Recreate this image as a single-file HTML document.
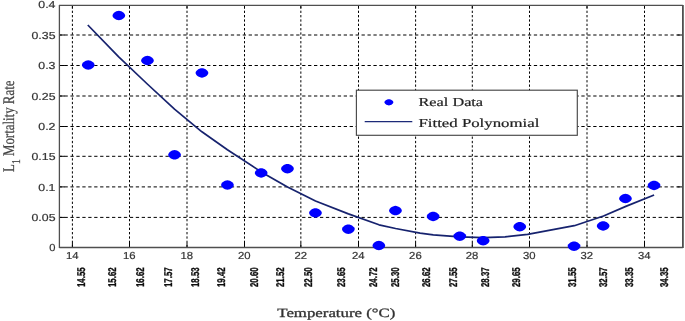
<!DOCTYPE html>
<html><head><meta charset="utf-8"><title>chart</title>
<style>
html,body{margin:0;padding:0;background:#fff;}
body{width:685px;height:321px;overflow:hidden;font-family:"Liberation Sans",sans-serif;}
svg{display:block;}
text{text-rendering:geometricPrecision;}
.tk{font-family:"Liberation Sans",sans-serif;font-size:10.2px;fill:#333;stroke:#333;stroke-width:0.2px;}
.rl{font-family:"Liberation Sans",sans-serif;font-weight:bold;font-size:11.3px;fill:#111;stroke:#111;stroke-width:0.35px;}
.sf{font-family:"Liberation Serif",serif;}
</style></head><body>
<svg width="685" height="321" viewBox="0 0 685 321">
<defs><filter id="b" x="-5%" y="-5%" width="110%" height="110%"><feGaussianBlur stdDeviation="0.4"/></filter><filter id="b2" x="-5%" y="-5%" width="110%" height="110%"><feGaussianBlur stdDeviation="0.25"/></filter></defs>
<rect x="0" y="0" width="685" height="321" fill="#fff"/>

<g stroke="#000" stroke-width="1" fill="none" filter="url(#b2)">
<line x1="72.40" y1="5.4" x2="72.40" y2="247.4" stroke-dasharray="2.3,2.04" stroke-dashoffset="3.39"/>
<line x1="72.40" y1="5.4" x2="72.40" y2="8.4"/>
<line x1="72.40" y1="242.9" x2="72.40" y2="247.4"/>
<line x1="129.50" y1="5.4" x2="129.50" y2="247.4" stroke-dasharray="2.3,2.04" stroke-dashoffset="3.39"/>
<line x1="129.50" y1="5.4" x2="129.50" y2="8.4"/>
<line x1="129.50" y1="242.9" x2="129.50" y2="247.4"/>
<line x1="187.00" y1="5.4" x2="187.00" y2="247.4" stroke-dasharray="2.3,2.04" stroke-dashoffset="3.39"/>
<line x1="187.00" y1="5.4" x2="187.00" y2="8.4"/>
<line x1="187.00" y1="242.9" x2="187.00" y2="247.4"/>
<line x1="244.50" y1="5.4" x2="244.50" y2="247.4" stroke-dasharray="2.3,2.04" stroke-dashoffset="3.39"/>
<line x1="244.50" y1="5.4" x2="244.50" y2="8.4"/>
<line x1="244.50" y1="242.9" x2="244.50" y2="247.4"/>
<line x1="300.85" y1="5.4" x2="300.85" y2="247.4" stroke-dasharray="2.3,2.04" stroke-dashoffset="3.39"/>
<line x1="300.85" y1="5.4" x2="300.85" y2="8.4"/>
<line x1="300.85" y1="242.9" x2="300.85" y2="247.4"/>
<line x1="358.50" y1="5.4" x2="358.50" y2="247.4" stroke-dasharray="2.3,2.04" stroke-dashoffset="3.39"/>
<line x1="358.50" y1="5.4" x2="358.50" y2="8.4"/>
<line x1="358.50" y1="242.9" x2="358.50" y2="247.4"/>
<line x1="415.60" y1="5.4" x2="415.60" y2="247.4" stroke-dasharray="2.3,2.04" stroke-dashoffset="3.39"/>
<line x1="415.60" y1="5.4" x2="415.60" y2="8.4"/>
<line x1="415.60" y1="242.9" x2="415.60" y2="247.4"/>
<line x1="472.30" y1="5.4" x2="472.30" y2="247.4" stroke-dasharray="2.3,2.04" stroke-dashoffset="3.39"/>
<line x1="472.30" y1="5.4" x2="472.30" y2="8.4"/>
<line x1="472.30" y1="242.9" x2="472.30" y2="247.4"/>
<line x1="529.50" y1="5.4" x2="529.50" y2="247.4" stroke-dasharray="2.3,2.04" stroke-dashoffset="3.39"/>
<line x1="529.50" y1="5.4" x2="529.50" y2="8.4"/>
<line x1="529.50" y1="242.9" x2="529.50" y2="247.4"/>
<line x1="587.00" y1="5.4" x2="587.00" y2="247.4" stroke-dasharray="2.3,2.04" stroke-dashoffset="3.39"/>
<line x1="587.00" y1="5.4" x2="587.00" y2="8.4"/>
<line x1="587.00" y1="242.9" x2="587.00" y2="247.4"/>
<line x1="644.50" y1="5.4" x2="644.50" y2="247.4" stroke-dasharray="2.3,2.04" stroke-dashoffset="3.39"/>
<line x1="644.50" y1="5.4" x2="644.50" y2="8.4"/>
<line x1="644.50" y1="242.9" x2="644.50" y2="247.4"/>
<line x1="59.4" y1="217.40" x2="682.9" y2="217.40" stroke-dasharray="3.3,2.641" stroke-dashoffset="0.85"/>
<line x1="59.4" y1="217.40" x2="64.9" y2="217.40"/>
<line x1="677.4" y1="217.40" x2="682.9" y2="217.40"/>
<line x1="59.4" y1="186.90" x2="682.9" y2="186.90" stroke-dasharray="3.3,2.641" stroke-dashoffset="0.85"/>
<line x1="59.4" y1="186.90" x2="64.9" y2="186.90"/>
<line x1="677.4" y1="186.90" x2="682.9" y2="186.90"/>
<line x1="59.4" y1="156.30" x2="682.9" y2="156.30" stroke-dasharray="3.3,2.641" stroke-dashoffset="0.85"/>
<line x1="59.4" y1="156.30" x2="64.9" y2="156.30"/>
<line x1="677.4" y1="156.30" x2="682.9" y2="156.30"/>
<line x1="59.4" y1="126.50" x2="682.9" y2="126.50" stroke-dasharray="3.3,2.641" stroke-dashoffset="0.85"/>
<line x1="59.4" y1="126.50" x2="64.9" y2="126.50"/>
<line x1="677.4" y1="126.50" x2="682.9" y2="126.50"/>
<line x1="59.4" y1="96.00" x2="682.9" y2="96.00" stroke-dasharray="3.3,2.641" stroke-dashoffset="0.85"/>
<line x1="59.4" y1="96.00" x2="64.9" y2="96.00"/>
<line x1="677.4" y1="96.00" x2="682.9" y2="96.00"/>
<line x1="59.4" y1="65.50" x2="682.9" y2="65.50" stroke-dasharray="3.3,2.641" stroke-dashoffset="0.85"/>
<line x1="59.4" y1="65.50" x2="64.9" y2="65.50"/>
<line x1="677.4" y1="65.50" x2="682.9" y2="65.50"/>
<line x1="59.4" y1="35.00" x2="682.9" y2="35.00" stroke-dasharray="3.3,2.641" stroke-dashoffset="0.85"/>
<line x1="59.4" y1="35.00" x2="64.9" y2="35.00"/>
<line x1="677.4" y1="35.00" x2="682.9" y2="35.00"/>
</g>
<g filter="url(#b)">
<g stroke="#505050" fill="none"><line x1="59.4" y1="4.9" x2="59.4" y2="248.0" stroke-width="1.3"/><line x1="59.4" y1="5.4" x2="682.9" y2="5.4" stroke-width="1.1"/><line x1="682.9" y1="4.9" x2="682.9" y2="248.1" stroke-width="1.8"/><line x1="59.4" y1="247.55" x2="682.9" y2="247.55" stroke-width="1.5"/></g>
<path d="M87.8,25.0 L118.7,56.9 L147.3,84.0 L174.5,109.1 L201.9,131.8 L227.4,149.7 L261.2,171.9 L287.5,187.0 L315.5,201.0 L348.4,213.9 L379.0,224.8 L395.6,228.5 L420.1,233.2 L433.3,234.8 L459.9,236.8 L483.4,237.7 L505.1,236.9 L527.6,234.4 L574.3,225.7 L603.5,216.0 L625.8,206.4 L654.1,195.0" fill="none" stroke="#16226e" stroke-width="1.7" stroke-linejoin="round"/>
<path d="M94.60,65.00 L94.42,65.85 L93.89,66.83 L93.04,67.77 L91.95,68.59 L90.70,69.22 L89.39,69.61 L88.25,69.75 L87.11,69.61 L85.80,69.22 L84.55,68.59 L83.46,67.77 L82.61,66.83 L82.08,65.85 L81.90,65.00 L82.08,64.15 L82.61,63.17 L83.46,62.23 L84.55,61.41 L85.80,60.78 L87.11,60.39 L88.25,60.25 L89.39,60.39 L90.70,60.78 L91.95,61.41 L93.04,62.23 L93.89,63.17 L94.42,64.15Z" fill="#0000ff"/>
<path d="M125.20,15.50 L125.02,16.35 L124.49,17.33 L123.64,18.27 L122.55,19.09 L121.30,19.72 L119.99,20.11 L118.85,20.25 L117.71,20.11 L116.40,19.72 L115.15,19.09 L114.06,18.27 L113.21,17.33 L112.68,16.35 L112.50,15.50 L112.68,14.65 L113.21,13.67 L114.06,12.73 L115.15,11.91 L116.40,11.28 L117.71,10.89 L118.85,10.75 L119.99,10.89 L121.30,11.28 L122.55,11.91 L123.64,12.73 L124.49,13.67 L125.02,14.65Z" fill="#0000ff"/>
<path d="M153.80,60.50 L153.62,61.35 L153.09,62.33 L152.24,63.27 L151.15,64.09 L149.90,64.72 L148.59,65.11 L147.45,65.25 L146.31,65.11 L145.00,64.72 L143.75,64.09 L142.66,63.27 L141.81,62.33 L141.28,61.35 L141.10,60.50 L141.28,59.65 L141.81,58.67 L142.66,57.73 L143.75,56.91 L145.00,56.28 L146.31,55.89 L147.45,55.75 L148.59,55.89 L149.90,56.28 L151.15,56.91 L152.24,57.73 L153.09,58.67 L153.62,59.65Z" fill="#0000ff"/>
<path d="M180.90,154.80 L180.72,155.65 L180.19,156.63 L179.34,157.57 L178.25,158.39 L177.00,159.02 L175.69,159.41 L174.55,159.55 L173.41,159.41 L172.10,159.02 L170.85,158.39 L169.76,157.57 L168.91,156.63 L168.38,155.65 L168.20,154.80 L168.38,153.95 L168.91,152.97 L169.76,152.03 L170.85,151.21 L172.10,150.58 L173.41,150.19 L174.55,150.05 L175.69,150.19 L177.00,150.58 L178.25,151.21 L179.34,152.03 L180.19,152.97 L180.72,153.95Z" fill="#0000ff"/>
<path d="M208.30,72.90 L208.12,73.75 L207.59,74.73 L206.74,75.67 L205.65,76.49 L204.40,77.12 L203.09,77.51 L201.95,77.65 L200.81,77.51 L199.50,77.12 L198.25,76.49 L197.16,75.67 L196.31,74.73 L195.78,73.75 L195.60,72.90 L195.78,72.05 L196.31,71.07 L197.16,70.13 L198.25,69.31 L199.50,68.68 L200.81,68.29 L201.95,68.15 L203.09,68.29 L204.40,68.68 L205.65,69.31 L206.74,70.13 L207.59,71.07 L208.12,72.05Z" fill="#0000ff"/>
<path d="M233.80,185.00 L233.62,185.85 L233.09,186.83 L232.24,187.77 L231.15,188.59 L229.90,189.22 L228.59,189.61 L227.45,189.75 L226.31,189.61 L225.00,189.22 L223.75,188.59 L222.66,187.77 L221.81,186.83 L221.28,185.85 L221.10,185.00 L221.28,184.15 L221.81,183.17 L222.66,182.23 L223.75,181.41 L225.00,180.78 L226.31,180.39 L227.45,180.25 L228.59,180.39 L229.90,180.78 L231.15,181.41 L232.24,182.23 L233.09,183.17 L233.62,184.15Z" fill="#0000ff"/>
<path d="M267.50,172.90 L267.32,173.75 L266.79,174.73 L265.94,175.67 L264.85,176.49 L263.60,177.12 L262.29,177.51 L261.15,177.65 L260.01,177.51 L258.70,177.12 L257.45,176.49 L256.36,175.67 L255.51,174.73 L254.98,173.75 L254.80,172.90 L254.98,172.05 L255.51,171.07 L256.36,170.13 L257.45,169.31 L258.70,168.68 L260.01,168.29 L261.15,168.15 L262.29,168.29 L263.60,168.68 L264.85,169.31 L265.94,170.13 L266.79,171.07 L267.32,172.05Z" fill="#0000ff"/>
<path d="M293.80,168.70 L293.62,169.55 L293.09,170.53 L292.24,171.47 L291.15,172.29 L289.90,172.92 L288.59,173.31 L287.45,173.45 L286.31,173.31 L285.00,172.92 L283.75,172.29 L282.66,171.47 L281.81,170.53 L281.28,169.55 L281.10,168.70 L281.28,167.85 L281.81,166.87 L282.66,165.93 L283.75,165.11 L285.00,164.48 L286.31,164.09 L287.45,163.95 L288.59,164.09 L289.90,164.48 L291.15,165.11 L292.24,165.93 L293.09,166.87 L293.62,167.85Z" fill="#0000ff"/>
<path d="M321.80,212.90 L321.62,213.75 L321.09,214.73 L320.24,215.67 L319.15,216.49 L317.90,217.12 L316.59,217.51 L315.45,217.65 L314.31,217.51 L313.00,217.12 L311.75,216.49 L310.66,215.67 L309.81,214.73 L309.28,213.75 L309.10,212.90 L309.28,212.05 L309.81,211.07 L310.66,210.13 L311.75,209.31 L313.00,208.68 L314.31,208.29 L315.45,208.15 L316.59,208.29 L317.90,208.68 L319.15,209.31 L320.24,210.13 L321.09,211.07 L321.62,212.05Z" fill="#0000ff"/>
<path d="M354.70,229.20 L354.52,230.05 L353.99,231.03 L353.14,231.97 L352.05,232.79 L350.80,233.42 L349.49,233.81 L348.35,233.95 L347.21,233.81 L345.90,233.42 L344.65,232.79 L343.56,231.97 L342.71,231.03 L342.18,230.05 L342.00,229.20 L342.18,228.35 L342.71,227.37 L343.56,226.43 L344.65,225.61 L345.90,224.98 L347.21,224.59 L348.35,224.45 L349.49,224.59 L350.80,224.98 L352.05,225.61 L353.14,226.43 L353.99,227.37 L354.52,228.35Z" fill="#0000ff"/>
<path d="M385.20,245.50 L385.02,246.35 L384.49,247.33 L383.64,248.27 L382.55,249.09 L381.30,249.72 L379.99,250.11 L378.85,250.25 L377.71,250.11 L376.40,249.72 L375.15,249.09 L374.06,248.27 L373.21,247.33 L372.68,246.35 L372.50,245.50 L372.68,244.65 L373.21,243.67 L374.06,242.73 L375.15,241.91 L376.40,241.28 L377.71,240.89 L378.85,240.75 L379.99,240.89 L381.30,241.28 L382.55,241.91 L383.64,242.73 L384.49,243.67 L385.02,244.65Z" fill="#0000ff"/>
<path d="M401.80,210.60 L401.62,211.45 L401.09,212.43 L400.24,213.37 L399.15,214.19 L397.90,214.82 L396.59,215.21 L395.45,215.35 L394.31,215.21 L393.00,214.82 L391.75,214.19 L390.66,213.37 L389.81,212.43 L389.28,211.45 L389.10,210.60 L389.28,209.75 L389.81,208.77 L390.66,207.83 L391.75,207.01 L393.00,206.38 L394.31,205.99 L395.45,205.85 L396.59,205.99 L397.90,206.38 L399.15,207.01 L400.24,207.83 L401.09,208.77 L401.62,209.75Z" fill="#0000ff"/>
<path d="M439.50,216.40 L439.32,217.25 L438.79,218.23 L437.94,219.17 L436.85,219.99 L435.60,220.62 L434.29,221.01 L433.15,221.15 L432.01,221.01 L430.70,220.62 L429.45,219.99 L428.36,219.17 L427.51,218.23 L426.98,217.25 L426.80,216.40 L426.98,215.55 L427.51,214.57 L428.36,213.63 L429.45,212.81 L430.70,212.18 L432.01,211.79 L433.15,211.65 L434.29,211.79 L435.60,212.18 L436.85,212.81 L437.94,213.63 L438.79,214.57 L439.32,215.55Z" fill="#0000ff"/>
<path d="M466.10,236.20 L465.92,237.05 L465.39,238.03 L464.54,238.97 L463.45,239.79 L462.20,240.42 L460.89,240.81 L459.75,240.95 L458.61,240.81 L457.30,240.42 L456.05,239.79 L454.96,238.97 L454.11,238.03 L453.58,237.05 L453.40,236.20 L453.58,235.35 L454.11,234.37 L454.96,233.43 L456.05,232.61 L457.30,231.98 L458.61,231.59 L459.75,231.45 L460.89,231.59 L462.20,231.98 L463.45,232.61 L464.54,233.43 L465.39,234.37 L465.92,235.35Z" fill="#0000ff"/>
<path d="M489.50,240.70 L489.32,241.55 L488.79,242.53 L487.94,243.47 L486.85,244.29 L485.60,244.92 L484.29,245.31 L483.15,245.45 L482.01,245.31 L480.70,244.92 L479.45,244.29 L478.36,243.47 L477.51,242.53 L476.98,241.55 L476.80,240.70 L476.98,239.85 L477.51,238.87 L478.36,237.93 L479.45,237.11 L480.70,236.48 L482.01,236.09 L483.15,235.95 L484.29,236.09 L485.60,236.48 L486.85,237.11 L487.94,237.93 L488.79,238.87 L489.32,239.85Z" fill="#0000ff"/>
<path d="M526.10,226.70 L525.92,227.55 L525.39,228.53 L524.54,229.47 L523.45,230.29 L522.20,230.92 L520.89,231.31 L519.75,231.45 L518.61,231.31 L517.30,230.92 L516.05,230.29 L514.96,229.47 L514.11,228.53 L513.58,227.55 L513.40,226.70 L513.58,225.85 L514.11,224.87 L514.96,223.93 L516.05,223.11 L517.30,222.48 L518.61,222.09 L519.75,221.95 L520.89,222.09 L522.20,222.48 L523.45,223.11 L524.54,223.93 L525.39,224.87 L525.92,225.85Z" fill="#0000ff"/>
<path d="M580.40,246.20 L580.22,247.05 L579.69,248.03 L578.84,248.97 L577.75,249.79 L576.50,250.42 L575.19,250.81 L574.05,250.95 L572.91,250.81 L571.60,250.42 L570.35,249.79 L569.26,248.97 L568.41,248.03 L567.88,247.05 L567.70,246.20 L567.88,245.35 L568.41,244.37 L569.26,243.43 L570.35,242.61 L571.60,241.98 L572.91,241.59 L574.05,241.45 L575.19,241.59 L576.50,241.98 L577.75,242.61 L578.84,243.43 L579.69,244.37 L580.22,245.35Z" fill="#0000ff"/>
<path d="M609.50,225.90 L609.32,226.75 L608.79,227.73 L607.94,228.67 L606.85,229.49 L605.60,230.12 L604.29,230.51 L603.15,230.65 L602.01,230.51 L600.70,230.12 L599.45,229.49 L598.36,228.67 L597.51,227.73 L596.98,226.75 L596.80,225.90 L596.98,225.05 L597.51,224.07 L598.36,223.13 L599.45,222.31 L600.70,221.68 L602.01,221.29 L603.15,221.15 L604.29,221.29 L605.60,221.68 L606.85,222.31 L607.94,223.13 L608.79,224.07 L609.32,225.05Z" fill="#0000ff"/>
<path d="M631.80,198.50 L631.62,199.35 L631.09,200.33 L630.24,201.27 L629.15,202.09 L627.90,202.72 L626.59,203.11 L625.45,203.25 L624.31,203.11 L623.00,202.72 L621.75,202.09 L620.66,201.27 L619.81,200.33 L619.28,199.35 L619.10,198.50 L619.28,197.65 L619.81,196.67 L620.66,195.73 L621.75,194.91 L623.00,194.28 L624.31,193.89 L625.45,193.75 L626.59,193.89 L627.90,194.28 L629.15,194.91 L630.24,195.73 L631.09,196.67 L631.62,197.65Z" fill="#0000ff"/>
<path d="M660.40,185.40 L660.22,186.25 L659.69,187.23 L658.84,188.17 L657.75,188.99 L656.50,189.62 L655.19,190.01 L654.05,190.15 L652.91,190.01 L651.60,189.62 L650.35,188.99 L649.26,188.17 L648.41,187.23 L647.88,186.25 L647.70,185.40 L647.88,184.55 L648.41,183.57 L649.26,182.63 L650.35,181.81 L651.60,181.18 L652.91,180.79 L654.05,180.65 L655.19,180.79 L656.50,181.18 L657.75,181.81 L658.84,182.63 L659.69,183.57 L660.22,184.55Z" fill="#0000ff"/>
<text class="tk" x="49.3" y="251.4" textLength="6.2" lengthAdjust="spacingAndGlyphs">0</text>
<text class="tk" x="31.5" y="221.0" textLength="24.0" lengthAdjust="spacingAndGlyphs">0.05</text>
<text class="tk" x="38.3" y="190.5" textLength="17.2" lengthAdjust="spacingAndGlyphs">0.1</text>
<text class="tk" x="31.5" y="159.9" textLength="24.0" lengthAdjust="spacingAndGlyphs">0.15</text>
<text class="tk" x="38.3" y="130.1" textLength="17.2" lengthAdjust="spacingAndGlyphs">0.2</text>
<text class="tk" x="31.5" y="99.6" textLength="24.0" lengthAdjust="spacingAndGlyphs">0.25</text>
<text class="tk" x="38.3" y="69.1" textLength="17.2" lengthAdjust="spacingAndGlyphs">0.3</text>
<text class="tk" x="31.5" y="38.6" textLength="24.0" lengthAdjust="spacingAndGlyphs">0.35</text>
<text class="tk" x="38.3" y="8.2" textLength="17.2" lengthAdjust="spacingAndGlyphs">0.4</text>
<text class="tk" x="65.9" y="258.8" textLength="12.6" lengthAdjust="spacingAndGlyphs">14</text>
<text class="tk" x="123.0" y="258.8" textLength="12.6" lengthAdjust="spacingAndGlyphs">16</text>
<text class="tk" x="180.5" y="258.8" textLength="12.6" lengthAdjust="spacingAndGlyphs">18</text>
<text class="tk" x="238.0" y="258.8" textLength="12.6" lengthAdjust="spacingAndGlyphs">20</text>
<text class="tk" x="294.4" y="258.8" textLength="12.6" lengthAdjust="spacingAndGlyphs">22</text>
<text class="tk" x="352.0" y="258.8" textLength="12.6" lengthAdjust="spacingAndGlyphs">24</text>
<text class="tk" x="409.1" y="258.8" textLength="12.6" lengthAdjust="spacingAndGlyphs">26</text>
<text class="tk" x="465.8" y="258.8" textLength="12.6" lengthAdjust="spacingAndGlyphs">28</text>
<text class="tk" x="523.0" y="258.8" textLength="12.6" lengthAdjust="spacingAndGlyphs">30</text>
<text class="tk" x="580.5" y="258.8" textLength="12.6" lengthAdjust="spacingAndGlyphs">32</text>
<text class="tk" x="638.0" y="258.8" textLength="12.6" lengthAdjust="spacingAndGlyphs">34</text>
<text class="rl" transform="translate(84.8,287) rotate(-90)" textLength="19.6" lengthAdjust="spacingAndGlyphs">14.55</text>
<text class="rl" transform="translate(115.5,287) rotate(-90)" textLength="19.6" lengthAdjust="spacingAndGlyphs">15.62</text>
<text class="rl" transform="translate(144.2,287) rotate(-90)" textLength="19.6" lengthAdjust="spacingAndGlyphs">16.62</text>
<text class="rl" transform="translate(171.8,287) rotate(-90)" textLength="19.6" lengthAdjust="spacingAndGlyphs">17.57</text>
<text class="rl" transform="translate(198.7,287) rotate(-90)" textLength="19.6" lengthAdjust="spacingAndGlyphs">18.53</text>
<text class="rl" transform="translate(224.6,287) rotate(-90)" textLength="19.6" lengthAdjust="spacingAndGlyphs">19.42</text>
<text class="rl" transform="translate(258.4,287) rotate(-90)" textLength="19.6" lengthAdjust="spacingAndGlyphs">20.60</text>
<text class="rl" transform="translate(284.1,287) rotate(-90)" textLength="19.6" lengthAdjust="spacingAndGlyphs">21.52</text>
<text class="rl" transform="translate(312.2,287) rotate(-90)" textLength="19.6" lengthAdjust="spacingAndGlyphs">22.50</text>
<text class="rl" transform="translate(344.8,287) rotate(-90)" textLength="19.6" lengthAdjust="spacingAndGlyphs">23.65</text>
<text class="rl" transform="translate(377.4,287) rotate(-90)" textLength="19.6" lengthAdjust="spacingAndGlyphs">24.72</text>
<text class="rl" transform="translate(399.1,287) rotate(-90)" textLength="19.6" lengthAdjust="spacingAndGlyphs">25.30</text>
<text class="rl" transform="translate(430.4,287) rotate(-90)" textLength="19.6" lengthAdjust="spacingAndGlyphs">26.62</text>
<text class="rl" transform="translate(456.6,287) rotate(-90)" textLength="19.6" lengthAdjust="spacingAndGlyphs">27.55</text>
<text class="rl" transform="translate(488.7,287) rotate(-90)" textLength="19.6" lengthAdjust="spacingAndGlyphs">28.37</text>
<text class="rl" transform="translate(519.5,287) rotate(-90)" textLength="19.6" lengthAdjust="spacingAndGlyphs">29.65</text>
<text class="rl" transform="translate(575.5,287) rotate(-90)" textLength="19.6" lengthAdjust="spacingAndGlyphs">31.55</text>
<text class="rl" transform="translate(607.4,287) rotate(-90)" textLength="19.6" lengthAdjust="spacingAndGlyphs">32.57</text>
<text class="rl" transform="translate(633.0,287) rotate(-90)" textLength="19.6" lengthAdjust="spacingAndGlyphs">33.35</text>
<text class="rl" transform="translate(667.6,287) rotate(-90)" textLength="19.6" lengthAdjust="spacingAndGlyphs">34.35</text>
<rect x="356.4" y="90.2" width="220.9" height="45.1" fill="#fff" stroke="#484848" stroke-width="1.15"/>
<path d="M393.40,102.30 L393.27,102.84 L392.88,103.48 L392.27,104.11 L391.48,104.66 L390.58,105.09 L389.67,105.36 L388.90,105.45 L388.13,105.36 L387.22,105.09 L386.32,104.66 L385.53,104.11 L384.92,103.48 L384.53,102.84 L384.40,102.30 L384.53,101.76 L384.92,101.12 L385.53,100.49 L386.32,99.94 L387.22,99.51 L388.13,99.24 L388.90,99.15 L389.67,99.24 L390.58,99.51 L391.48,99.94 L392.27,100.49 L392.88,101.12 L393.27,101.76Z" fill="#0000ff"/>
<line x1="364.7" y1="121.6" x2="412.3" y2="121.6" stroke="#1c2a78" stroke-width="1.4"/>
<text class="sf" x="418.5" y="106.2" font-size="12.2px" fill="#222" stroke="#222" stroke-width="0.2" textLength="64.6" lengthAdjust="spacingAndGlyphs">Real Data</text>
<text class="sf" x="418.5" y="127.3" font-size="12.2px" fill="#222" stroke="#222" stroke-width="0.2" textLength="120.8" lengthAdjust="spacingAndGlyphs">Fitted Polynomial</text>
<text class="sf" x="277.3" y="316.7" font-size="12.7px" fill="#333" stroke="#333" stroke-width="0.3" textLength="118" lengthAdjust="spacingAndGlyphs">Temperature (°C)</text>
<text class="sf" transform="translate(14.2,171.9) rotate(-90)" font-size="16.2px" fill="#444" stroke="#444" stroke-width="0.25" textLength="91.4" lengthAdjust="spacingAndGlyphs">L<tspan font-size="12px" dy="6.0">1</tspan><tspan dy="-6.0"> Mortality Rate</tspan></text>
</g>
</svg></body></html>
